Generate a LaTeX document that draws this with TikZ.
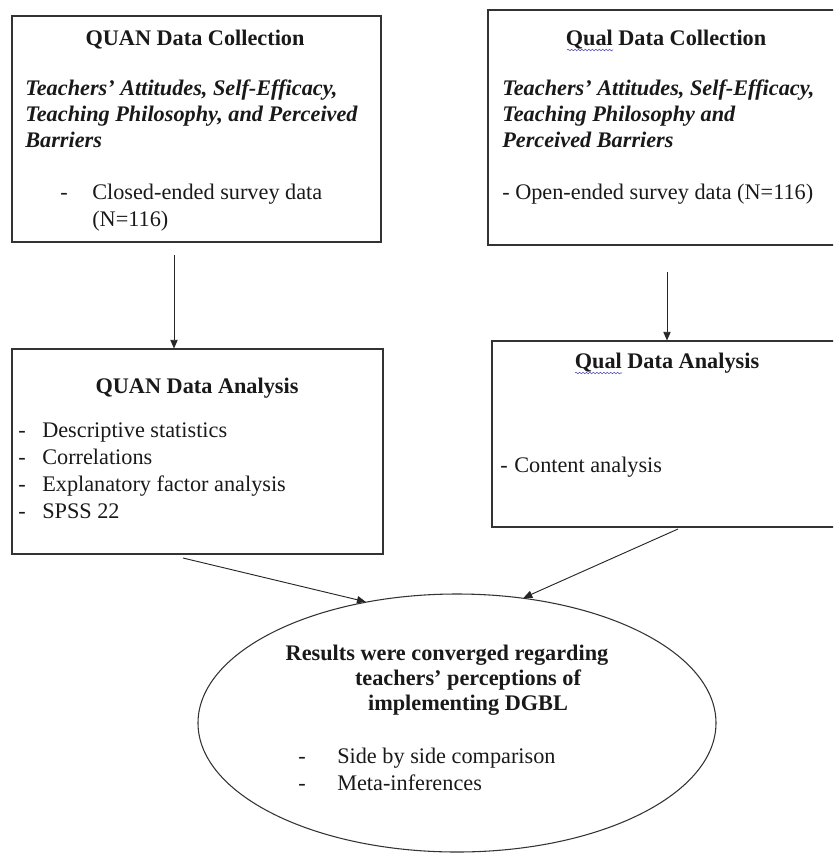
\documentclass[tikz,border=0pt]{standalone}
\usepackage{fontspec}
\setmainfont{Liberation Serif}
\usetikzlibrary{arrows.meta,positioning,fit,shapes.geometric,decorations.pathmorphing}
\newcommand{\dfont}{\fontsize{16.7}{19.5}\selectfont}

\begin{document}
\begin{tikzpicture}[
  x=0.75pt, y=-0.75pt,
  >={Triangle[length=6.5pt,width=5.5pt]},
  box/.style={draw=black!80,line width=0.8pt,inner sep=0pt},
  oval/.style={ellipse,draw=black!80,line width=0.8pt,inner sep=0pt,
               minimum width=388.5pt,minimum height=193.5pt},
  ttl/.style={inner sep=0pt,anchor=base,font=\dfont\bfseries,text=black!90},
  itl/.style={inner sep=0pt,anchor=base west,font=\dfont\bfseries\itshape,text=black!90},
  txt/.style={inner sep=0pt,anchor=base west,font=\dfont,text=black!90},
  flow/.style={->,line width=0.7pt,black!85},
  squig/.style={decorate,decoration={snake,amplitude=0.6pt,segment length=2.6pt},
                draw=gray!60!blue,line width=0.4pt}
]
\useasboundingbox[clip] (0,0) rectangle (833,854);

% ---- QUAN data collection ----
\node[box,fit={(12,16) (381,242)}] (quancol) {};
\node[ttl] (quancolT) at (195,45) {QUAN Data Collection};
\node[itl] (quancolA) at (25,95) {Teachers’ Attitudes, Self-Efficacy,};
\node[itl] (quancolB) at (25,121) {Teaching Philosophy, and Perceived};
\node[itl] (quancolC) at (25,147) {Barriers};
\node[txt] (quancolD) at (60,199) {-};
\node[txt] (quancolE) at (92,199) {Closed-ended survey data};
\node[txt] (quancolF) at (92,226) {(N=116)};

% ---- Qual data collection ----
\node[box,fit={(488,10) (880,245)}] (qualcol) {};
\node[ttl] (qualcolT) at (666,45) {Qual Data Collection};
\draw[squig] (567,50) -- (613,50);
\node[itl] (qualcolA) at (502,95) {Teachers’ Attitudes, Self-Efficacy,};
\node[itl] (qualcolB) at (502,121) {Teaching Philosophy and};
\node[itl] (qualcolC) at (502,147) {Perceived Barriers};
\node[txt] (qualcolD) at (502,199) {- Open-ended survey data (N=116)};

% ---- QUAN data analysis ----
\node[box,fit={(12,349) (383,554)}] (quanana) {};
\node[ttl] (quananaT) at (197,393) {QUAN Data Analysis};
\node[txt] (quananaA) at (18,437) {-};
\node[txt] (quananaB) at (42,437) {Descriptive statistics};
\node[txt] (quananaC) at (18,464) {-};
\node[txt] (quananaD) at (42,464) {Correlations};
\node[txt] (quananaE) at (18,491) {-};
\node[txt] (quananaF) at (42,491) {Explanatory factor analysis};
\node[txt] (quananaG) at (18,518) {-};
\node[txt] (quananaH) at (42,518) {SPSS 22};

% ---- Qual data analysis ----
\node[box,fit={(492,341) (880,527)}] (qualana) {};
\node[ttl] (qualanaT) at (667,368) {Qual Data Analysis};
\draw[squig] (575,373) -- (622,373);
\node[txt] (qualanaA) at (500,472) {-};
\node[txt] (qualanaB) at (514,472) {Content analysis};

% ---- converged results ----
\node[oval] (result) at (457,723) {};
\node[ttl] (resultA) at (447,660) {Results were converged regarding};
\node[ttl] (resultB) at (468,685) {teachers’ perceptions of};
\node[ttl] (resultC) at (468,710) {implementing DGBL};
\node[txt] (resultD) at (298,763) {-};
\node[txt] (resultE) at (337,763) {Side by side comparison};
\node[txt] (resultF) at (298,790) {-};
\node[txt] (resultG) at (337,790) {Meta-inferences};

% ---- arrows ----
\coordinate (s1) at (174,255);
\coordinate (s2) at (667,272);
\coordinate (s3) at (183,558);
\coordinate (s4) at (678,529);
\draw[flow] (s1) -- (s1 |- quanana.north);
\draw[flow] (s2) -- (s2 |- qualana.north);
\draw[flow] (s3) -- (result.127);
\draw[flow] (s4) -- (result.62);

\end{tikzpicture}
\end{document}
